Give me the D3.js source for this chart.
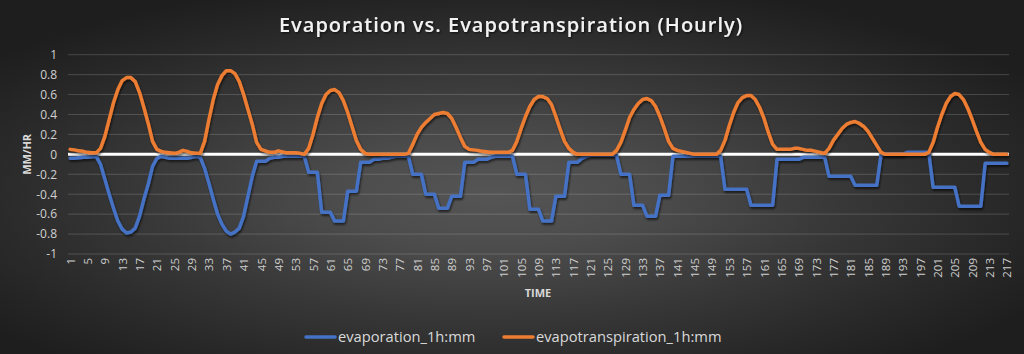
<!DOCTYPE html>
<html>
<head>
<meta charset="utf-8">
<script src="https://cdn.jsdelivr.net/npm/d3@7"></script>
<style>
  html, body { margin: 0; padding: 0; background: #2a2a2a; }
  svg { display: block; font-family: "Open Sans", sans-serif; }
</style>
</head>
<body>
<div id="chart"></div>
<script>
// hourly categories 1..217
const hours = d3.range(1, 218);

const evapotranspiration = [
  0.05,0.045,0.035,0.03,0.02,0.015,0.015,0.06,0.18,0.35,
  0.52,0.65,0.74,0.77,0.77,0.73,0.62,0.47,0.31,0.13,
  0.05,0.03,0.02,0.015,0.01,0.02,0.04,0.03,0.015,0.01,
  0.01,0.13,0.35,0.55,0.7,0.79,0.84,0.84,0.81,0.73,
  0.6,0.45,0.3,0.12,0.05,0.035,0.02,0.02,0.035,0.025,
  0.015,0.015,0.015,0.01,0,0.06,0.2,0.37,0.51,0.6,
  0.64,0.65,0.62,0.54,0.42,0.28,0.14,0.05,0.01,0,
  0,0,0,0,0,0,0,0,0.01,0.1,
  0.2,0.27,0.32,0.36,0.4,0.41,0.42,0.41,0.36,0.27,
  0.17,0.08,0.05,0.045,0.04,0.03,0.025,0.02,0.02,0.02,
  0.02,0.02,0.04,0.13,0.26,0.38,0.48,0.55,0.58,0.58,
  0.56,0.5,0.38,0.25,0.13,0.06,0.02,0,0,0,
  0,0,0,0,0,0,0.04,0.12,0.24,0.37,
  0.45,0.51,0.55,0.56,0.54,0.48,0.38,0.26,0.13,0.06,
  0.04,0.03,0.02,0.01,0,0,0,0,0,0,
  0.04,0.14,0.29,0.42,0.52,0.57,0.59,0.59,0.55,0.47,
  0.36,0.22,0.1,0.05,0.05,0.05,0.05,0.06,0.06,0.05,
  0.04,0.04,0.03,0.02,0.01,0.06,0.14,0.2,0.26,0.3,
  0.32,0.33,0.31,0.28,0.23,0.16,0.09,0.02,0,0,
  0,0,0,0,0,0,0,0,0.02,0.12,
  0.27,0.4,0.51,0.58,0.61,0.6,0.55,0.46,0.35,0.23,
  0.12,0.05,0.02,0,0,0,0
];

const evaporation = [
  -0.04,-0.04,-0.035,-0.03,-0.03,-0.025,-0.02,-0.1,-0.25,-0.4,
  -0.54,-0.67,-0.75,-0.79,-0.78,-0.74,-0.62,-0.45,-0.3,-0.12,
  -0.04,-0.02,-0.03,-0.04,-0.04,-0.04,-0.04,-0.04,-0.03,-0.02,
  -0.03,-0.14,-0.29,-0.45,-0.6,-0.7,-0.77,-0.8,-0.78,-0.74,
  -0.62,-0.42,-0.22,-0.07,-0.07,-0.07,-0.04,-0.03,-0.03,-0.02,
  -0.02,-0.02,-0.02,-0.02,-0.02,-0.18,-0.18,-0.18,-0.58,-0.58,
  -0.58,-0.67,-0.67,-0.67,-0.37,-0.37,-0.37,-0.08,-0.08,-0.08,
  -0.05,-0.05,-0.04,-0.04,-0.03,-0.02,-0.02,-0.02,-0.02,-0.2,
  -0.2,-0.2,-0.4,-0.4,-0.4,-0.54,-0.54,-0.54,-0.42,-0.42,
  -0.42,-0.08,-0.08,-0.08,-0.05,-0.05,-0.05,-0.03,-0.02,-0.02,
  -0.02,-0.02,-0.02,-0.2,-0.2,-0.2,-0.55,-0.55,-0.55,-0.67,
  -0.67,-0.67,-0.42,-0.42,-0.42,-0.08,-0.08,-0.08,-0.04,-0.02,
  -0.01,-0.01,-0.01,-0.01,-0.01,-0.01,-0.01,-0.2,-0.2,-0.2,
  -0.51,-0.51,-0.51,-0.62,-0.62,-0.62,-0.41,-0.41,-0.41,-0.02,
  -0.02,-0.02,-0.02,-0.02,-0.02,-0.02,-0.02,-0.02,-0.02,-0.02,
  -0.02,-0.35,-0.35,-0.35,-0.35,-0.35,-0.35,-0.51,-0.51,-0.51,
  -0.51,-0.51,-0.51,-0.05,-0.05,-0.05,-0.05,-0.05,-0.05,-0.03,
  -0.03,-0.03,-0.03,-0.03,-0.03,-0.22,-0.22,-0.22,-0.22,-0.22,
  -0.22,-0.31,-0.31,-0.31,-0.31,-0.31,-0.31,0,0,0,
  0,0,0,0.02,0.02,0.02,0.02,0.02,0.02,-0.33,
  -0.33,-0.33,-0.33,-0.33,-0.33,-0.52,-0.52,-0.52,-0.52,-0.52,
  -0.52,-0.09,-0.09,-0.09,-0.09,-0.09,-0.09
];

const yTicks = [-1, -0.8, -0.6, -0.4, -0.2, 0, 0.2, 0.4, 0.6, 0.8, 1];
const xTickLabels = hours.filter(h => (h - 1) % 4 === 0);

const seriesNames = ["evaporation_1h:mm", "evapotranspiration_1h:mm"];
const seriesColors = ["#4472C4", "#ED7D31"];

const width = 1024, height = 354;

const svg = d3.select("#chart").append("svg")
    .attr("width", width)
    .attr("height", height);

const defs = svg.append("defs");

// background: radial gradient, lighter in the middle
const grad = defs.append("radialGradient")
    .attr("id", "bg")
    .attr("cx", "48%").attr("cy", "55%")
    .attr("r", "62%");
[["0%", "#555555"], ["25%", "#4c4c4c"], ["55%", "#383838"], ["80%", "#292929"], ["100%", "#1e1e1e"]]
  .forEach(s => grad.append("stop").attr("offset", s[0]).attr("stop-color", s[1]));

const shadow = defs.append("filter").attr("id", "shadow")
    .attr("x", "-5%").attr("y", "-20%").attr("width", "110%").attr("height", "140%");
shadow.append("feDropShadow")
    .attr("dx", 1).attr("dy", 2).attr("stdDeviation", 1.2)
    .attr("flood-color", "#000").attr("flood-opacity", 0.6);

const tshadow = defs.append("filter").attr("id", "tshadow");
tshadow.append("feDropShadow")
    .attr("dx", 1).attr("dy", 1).attr("stdDeviation", 0.8)
    .attr("flood-color", "#000").attr("flood-opacity", 0.7);

svg.append("rect")
    .attr("width", width).attr("height", height)
    .attr("fill", "url(#bg)");

// scales
const x = d3.scalePoint()
    .domain(hours)
    .range([68, 1009])
    .padding(0.5);

const y = d3.scaleLinear()
    .domain([-1, 1])
    .range([254, 54.7]);

// gridlines
svg.append("g")
  .selectAll("line")
  .data(yTicks)
  .join("line")
    .attr("x1", 68).attr("x2", 1009)
    .attr("y1", d => y(d)).attr("y2", d => y(d))
    .attr("stroke", "rgba(255,255,255,0.17)")
    .attr("stroke-width", 1);

// y axis labels
const yAxis = svg.append("g")
    .attr("transform", "translate(60,0)")
    .call(d3.axisLeft(y).tickValues(yTicks).tickSize(0).tickPadding(3)
      .tickFormat(d => String(+d.toFixed(1))));
yAxis.select(".domain").remove();
yAxis.selectAll("text")
    .attr("fill", "#d0d0d0")
    .attr("font-size", 12)
    .attr("font-family", "Open Sans, sans-serif");

// x axis labels (rotated)
const xAxis = svg.append("g")
    .attr("transform", "translate(0,258)")
    .call(d3.axisBottom(x).tickValues(xTickLabels).tickSize(0));
xAxis.select(".domain").remove();
xAxis.selectAll("text")
    .attr("fill", "#d0d0d0")
    .attr("font-size", 11.5)
    .attr("font-family", "Open Sans, sans-serif")
    .attr("text-anchor", "end")
    .attr("dy", "0.35em")
    .attr("transform", "rotate(-90)")
    .attr("x", 0)
    .attr("y", 0);

// zero line
svg.append("line")
    .attr("x1", 68).attr("x2", 1009)
    .attr("y1", y(0)).attr("y2", y(0))
    .attr("stroke", "#ffffff")
    .attr("stroke-width", 3);

// series lines
const line = d3.line()
    .x((d, i) => x(hours[i]))
    .y(d => y(d));

[evaporation, evapotranspiration].forEach((vals, k) => {
  svg.append("path")
      .datum(vals)
      .attr("d", line)
      .attr("fill", "none")
      .attr("stroke", seriesColors[k])
      .attr("stroke-width", 3.5)
      .attr("stroke-linejoin", "round")
      .attr("stroke-linecap", "round")
      .attr("filter", "url(#shadow)");
});

// title
svg.append("text")
    .attr("x", 511).attr("y", 32)
    .attr("text-anchor", "middle")
    .attr("fill", "#f2f2f2")
    .attr("font-size", 20)
    .attr("font-weight", 600)
    .attr("letter-spacing", 1)
    .attr("filter", "url(#tshadow)")
    .text("Evaporation vs. Evapotranspiration (Hourly)");

// axis titles
svg.append("text")
    .attr("transform", `translate(31,${y(0)}) rotate(-90)`)
    .attr("text-anchor", "middle")
    .attr("fill", "#d9d9d9")
    .attr("font-size", 11)
    .attr("font-weight", 700)
    .text("MM/HR");

svg.append("text")
    .attr("x", 538).attr("y", 297)
    .attr("text-anchor", "middle")
    .attr("fill", "#d9d9d9")
    .attr("font-size", 11)
    .attr("font-weight", 700)
    .text("TIME");

// legend
const legendX = [306, 504];
seriesNames.forEach((name, k) => {
  const g = svg.append("g").attr("transform", `translate(${legendX[k]},337)`);
  g.append("line")
      .attr("x1", 0).attr("x2", 29)
      .attr("stroke", seriesColors[k])
      .attr("stroke-width", 3.5)
      .attr("stroke-linecap", "round");
  g.append("text")
      .attr("x", 32).attr("dy", "0.35em")
      .attr("fill", "#d9d9d9")
      .attr("font-size", 14.7)
      .text(name);
});
</script>
</body>
</html>
